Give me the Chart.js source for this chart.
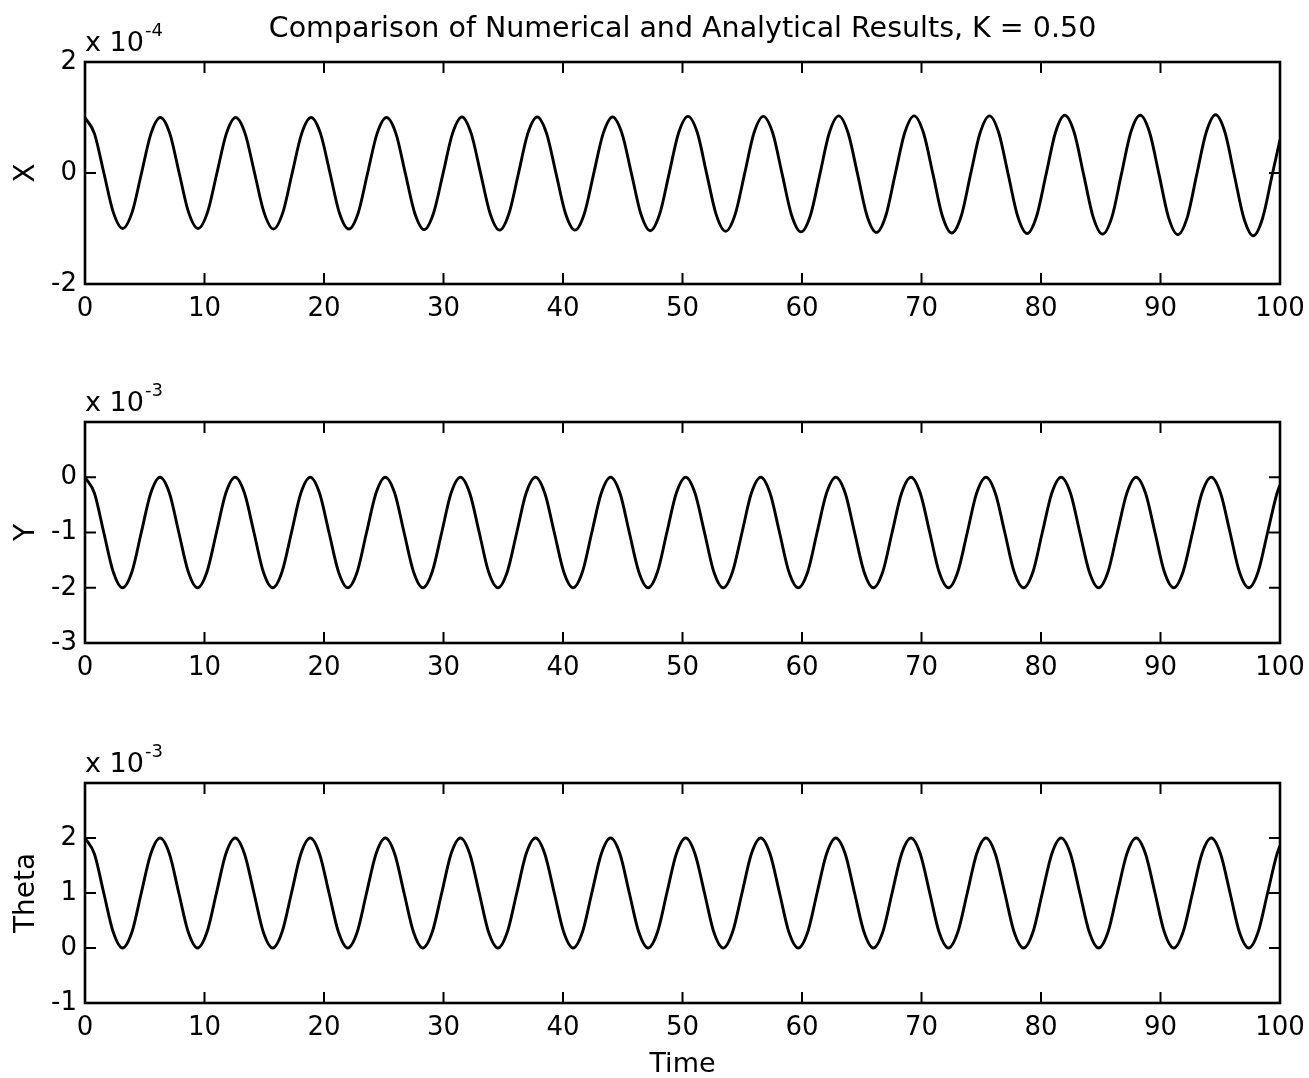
<!DOCTYPE html>
<html><head><meta charset="utf-8">
<script src="https://cdn.jsdelivr.net/npm/chart.js@4.4.0/dist/chart.umd.min.js"></script>
<style>
html,body{margin:0;padding:0;background:#fff;width:1309px;height:1078px;overflow:hidden;}
canvas{position:absolute;left:0;}
</style></head><body>
<canvas id="c1" width="1309" height="340" style="top:0px"></canvas>
<canvas id="c2" width="1309" height="340" style="top:360px"></canvas>
<canvas id="c3" width="1309" height="358" style="top:720px"></canvas>
<script>
// ---------------- data ----------------
const titleText = 'Comparison of Numerical and Analytical Results, K = 0.50';
const xAxisTitle = 'Time';
const panelLabels = ['X', 'Y', 'Theta'];
const panelExponents = ['-4', '-3', '-3'];
const timeTicks = [0,10,20,30,40,50,60,70,80,90,100];
const xPanelTicks = [-2, 0, 2];
const yPanelTicks = [-3, -2, -1, 0, 1];
const thetaPanelTicks = [-1, 0, 1, 2, 3];

// time samples for the X trace (its period is slightly longer)
const timeX = [
  0,0.79,1.58,2.37,3.15,3.94,4.73,5.52,
  6.31,7.10,7.88,8.67,9.46,10.25,11.04,11.83,
  12.61,13.40,14.19,14.98,15.77,16.56,17.34,18.13,
  18.92,19.71,20.50,21.29,22.08,22.86,23.65,24.44,
  25.23,26.02,26.81,27.59,28.38,29.17,29.96,30.75,
  31.54,32.32,33.11,33.90,34.69,35.48,36.27,37.05,
  37.84,38.63,39.42,40.21,41.00,41.79,42.57,43.36,
  44.15,44.94,45.73,46.52,47.30,48.09,48.88,49.67,
  50.46,51.25,52.03,52.82,53.61,54.40,55.19,55.98,
  56.76,57.55,58.34,59.13,59.92,60.71,61.50,62.28,
  63.07,63.86,64.65,65.44,66.23,67.01,67.80,68.59,
  69.38,70.17,70.96,71.74,72.53,73.32,74.11,74.90,
  75.69,76.47,77.26,78.05,78.84,79.63,80.42,81.21,
  81.99,82.78,83.57,84.36,85.15,85.94,86.72,87.51,
  88.30,89.09,89.88,90.67,91.45,92.24,93.03,93.82,
  94.61,95.40,96.18,96.97,97.76,98.55,99.34,100
];
// X values (x 1e-4)
const xValues = [
  1.00,0.71,0.00,-0.71,-1.00,-0.71,0.00,0.71,
  1.00,0.71,0.00,-0.71,-1.00,-0.71,0.00,0.71,
  1.00,0.71,0.00,-0.71,-1.01,-0.71,0.00,0.71,
  1.00,0.71,0.00,-0.72,-1.01,-0.72,0.00,0.71,
  1.00,0.71,-0.01,-0.72,-1.02,-0.72,-0.01,0.71,
  1.01,0.71,-0.01,-0.73,-1.03,-0.73,-0.01,0.71,
  1.01,0.71,-0.01,-0.73,-1.03,-0.73,-0.01,0.71,
  1.01,0.71,-0.01,-0.74,-1.04,-0.74,-0.01,0.72,
  1.02,0.72,-0.02,-0.75,-1.05,-0.75,-0.02,0.72,
  1.02,0.72,-0.02,-0.76,-1.06,-0.76,-0.02,0.72,
  1.03,0.72,-0.02,-0.77,-1.07,-0.77,-0.02,0.72,
  1.03,0.72,-0.02,-0.77,-1.08,-0.78,-0.02,0.72,
  1.03,0.72,-0.03,-0.78,-1.09,-0.78,-0.03,0.73,
  1.04,0.73,-0.03,-0.79,-1.10,-0.79,-0.03,0.73,
  1.04,0.73,-0.03,-0.80,-1.11,-0.80,-0.03,0.73,
  1.05,0.73,-0.04,-0.81,-1.13,-0.81,-0.04,0.60
];
// time samples for the Y and Theta traces
const timeYT = [
  0,0.79,1.57,2.36,3.14,3.93,4.71,5.50,
  6.28,7.07,7.85,8.64,9.42,10.21,11.00,11.78,
  12.57,13.35,14.14,14.92,15.71,16.49,17.28,18.06,
  18.85,19.63,20.42,21.21,21.99,22.78,23.56,24.35,
  25.13,25.92,26.70,27.49,28.27,29.06,29.85,30.63,
  31.42,32.20,32.99,33.77,34.56,35.34,36.13,36.91,
  37.70,38.48,39.27,40.06,40.84,41.63,42.41,43.20,
  43.98,44.77,45.55,46.34,47.12,47.91,48.69,49.48,
  50.27,51.05,51.84,52.62,53.41,54.19,54.98,55.76,
  56.55,57.33,58.12,58.90,59.69,60.48,61.26,62.05,
  62.83,63.62,64.40,65.19,65.97,66.76,67.54,68.33,
  69.12,69.90,70.69,71.47,72.26,73.04,73.83,74.61,
  75.40,76.18,76.97,77.75,78.54,79.33,80.11,80.90,
  81.68,82.47,83.25,84.04,84.82,85.61,86.39,87.18,
  87.96,88.75,89.54,90.32,91.11,91.89,92.68,93.46,
  94.25,95.03,95.82,96.60,97.39,98.17,98.96,99.75,
  100
];
// Y values (x 1e-3)
const yValues = [
  0.00,-0.29,-1.00,-1.71,-2.00,-1.71,-1.00,-0.29,
  0.00,-0.29,-1.00,-1.71,-2.00,-1.71,-1.00,-0.29,
  0.00,-0.29,-1.00,-1.71,-2.00,-1.71,-1.00,-0.29,
  0.00,-0.29,-1.00,-1.71,-2.00,-1.71,-1.00,-0.29,
  0.00,-0.29,-1.00,-1.71,-2.00,-1.71,-1.00,-0.29,
  0.00,-0.29,-1.00,-1.71,-2.00,-1.71,-1.00,-0.29,
  0.00,-0.29,-1.00,-1.71,-2.00,-1.71,-1.00,-0.29,
  0.00,-0.29,-1.00,-1.71,-2.00,-1.71,-1.00,-0.29,
  0.00,-0.29,-1.00,-1.71,-2.00,-1.71,-1.00,-0.29,
  0.00,-0.29,-1.00,-1.71,-2.00,-1.71,-1.00,-0.29,
  0.00,-0.29,-1.00,-1.71,-2.00,-1.71,-1.00,-0.29,
  0.00,-0.29,-1.00,-1.71,-2.00,-1.71,-1.00,-0.29,
  0.00,-0.29,-1.00,-1.71,-2.00,-1.71,-1.00,-0.29,
  0.00,-0.29,-1.00,-1.71,-2.00,-1.71,-1.00,-0.29,
  0.00,-0.29,-1.00,-1.71,-2.00,-1.71,-1.00,-0.29,
  0.00,-0.29,-1.00,-1.71,-2.00,-1.71,-1.00,-0.29,
  -0.14
];
// Theta values (x 1e-3)
const thetaValues = [
  2.00,1.71,1.00,0.29,0.00,0.29,1.00,1.71,
  2.00,1.71,1.00,0.29,0.00,0.29,1.00,1.71,
  2.00,1.71,1.00,0.29,0.00,0.29,1.00,1.71,
  2.00,1.71,1.00,0.29,0.00,0.29,1.00,1.71,
  2.00,1.71,1.00,0.29,0.00,0.29,1.00,1.71,
  2.00,1.71,1.00,0.29,0.00,0.29,1.00,1.71,
  2.00,1.71,1.00,0.29,0.00,0.29,1.00,1.71,
  2.00,1.71,1.00,0.29,0.00,0.29,1.00,1.71,
  2.00,1.71,1.00,0.29,0.00,0.29,1.00,1.71,
  2.00,1.71,1.00,0.29,0.00,0.29,1.00,1.71,
  2.00,1.71,1.00,0.29,0.00,0.29,1.00,1.71,
  2.00,1.71,1.00,0.29,0.00,0.29,1.00,1.71,
  2.00,1.71,1.00,0.29,0.00,0.29,1.00,1.71,
  2.00,1.71,1.00,0.29,0.00,0.29,1.00,1.71,
  2.00,1.71,1.00,0.29,0.00,0.29,1.00,1.71,
  2.00,1.71,1.00,0.29,0.00,0.29,1.00,1.71,
  1.86
];

// ---------------- rendering ----------------
const FONT = '"DejaVu Sans", Verdana, sans-serif';
Chart.defaults.color = '#000';
Chart.defaults.font.family = FONT;

const TICK_LEN = 11;
const frameTicks = {
  id: 'frameTicks',
  afterDraw(chart, args, opts) {
    const {ctx, chartArea: a, scales: {x, y}} = chart;
    ctx.save();
    ctx.strokeStyle = '#000';
    ctx.lineWidth = 2;
    ctx.beginPath();
    x.ticks.forEach(t => {
      const px = x.getPixelForValue(t.value);
      ctx.moveTo(px, a.bottom); ctx.lineTo(px, a.bottom - TICK_LEN);
      ctx.moveTo(px, a.top); ctx.lineTo(px, a.top + TICK_LEN);
    });
    y.ticks.forEach(t => {
      const py = y.getPixelForValue(t.value);
      ctx.moveTo(a.left, py); ctx.lineTo(a.left + TICK_LEN, py);
      ctx.moveTo(a.right, py); ctx.lineTo(a.right - TICK_LEN, py);
    });
    ctx.stroke();
    ctx.lineWidth = 2.6;
    ctx.strokeRect(a.left, a.top, a.right - a.left, a.bottom - a.top);
    // exponent label "x 10^n"
    ctx.fillStyle = '#000';
    ctx.textAlign = 'left';
    ctx.textBaseline = 'alphabetic';
    ctx.font = '27px ' + FONT;
    const base = 'x 10';
    ctx.fillText(base, a.left, a.top - 11);
    const w = ctx.measureText(base).width;
    ctx.font = '18px ' + FONT;
    ctx.fillText(opts.exp, a.left + w + 1, a.top - 26);
    ctx.restore();
  }
};

function makeChart(id, times, values, yMin, yMax, yStep, hideTop, label, exp, opt) {
  const pts = times.map((t, i) => ({x: t, y: values[i]}));
  return new Chart(document.getElementById(id), {
    type: 'line',
    data: {datasets: [{
      data: pts, borderColor: '#000', borderWidth: 2.9, pointRadius: 0,
      cubicInterpolationMode: 'monotone', fill: false
    }]},
    plugins: [frameTicks],
    options: {
      responsive: false, animation: false, devicePixelRatio: 1,
      layout: {padding: {left: 0, right: 29, top: opt.padTop, bottom: 0}},
      plugins: {
        legend: {display: false}, tooltip: {enabled: false},
        title: opt.title ? {display: true, text: opt.title, color: '#000', fullSize: false,
          font: {size: 28.5, weight: 'normal', family: FONT, lineHeight: 1.2}, padding: {top: 12, bottom: 15.8}} : {display: false},
        frameTicks: {exp: exp}
      },
      scales: {
        x: {
          type: 'linear', min: 0, max: 100,
          afterBuildTicks: s => { s.ticks = timeTicks.map(v => ({value: v})); },
          ticks: {font: {size: 26}, padding: 10, maxRotation: 0, autoSkip: false,
                  callback: v => String(v)},
          grid: {display: false, drawTicks: false}, border: {display: false},
          title: opt.xTitle ? {display: true, text: opt.xTitle, font: {size: 27, lineHeight: 1}, padding: {top: 0, bottom: 0}} : {display: false},
          afterFit: s => { s.height = opt.xHeight; s.paddingLeft = 0; s.paddingRight = 0; }
        },
        y: {
          type: 'linear', min: yMin, max: yMax,
          afterBuildTicks: s => { s.ticks = yStep.map(v => ({value: v})); },
          ticks: {font: {size: 26}, padding: 8, autoSkip: false,
                  callback: v => (v === hideTop ? '' : String(v))},
          grid: {display: false, drawTicks: false}, border: {display: false},
          title: {display: true, text: label, font: {size: 28, lineHeight: 1}, padding: {top: 13, bottom: 0}},
          afterFit: s => { s.width = 85; }
        }
      }
    }
  });
}

makeChart('c1', timeX, xValues, -2, 2, xPanelTicks, null, panelLabels[0], panelExponents[0],
  {padTop: 0, title: titleText, xHeight: 56});
makeChart('c2', timeYT, yValues, -3, 1, yPanelTicks, 1, panelLabels[1], panelExponents[1],
  {padTop: 62, xHeight: 57});
makeChart('c3', timeYT, thetaValues, -1, 3, thetaPanelTicks, 3, panelLabels[2], panelExponents[2],
  {padTop: 63, xHeight: 75, xTitle: xAxisTitle});
</script>
</body></html>
